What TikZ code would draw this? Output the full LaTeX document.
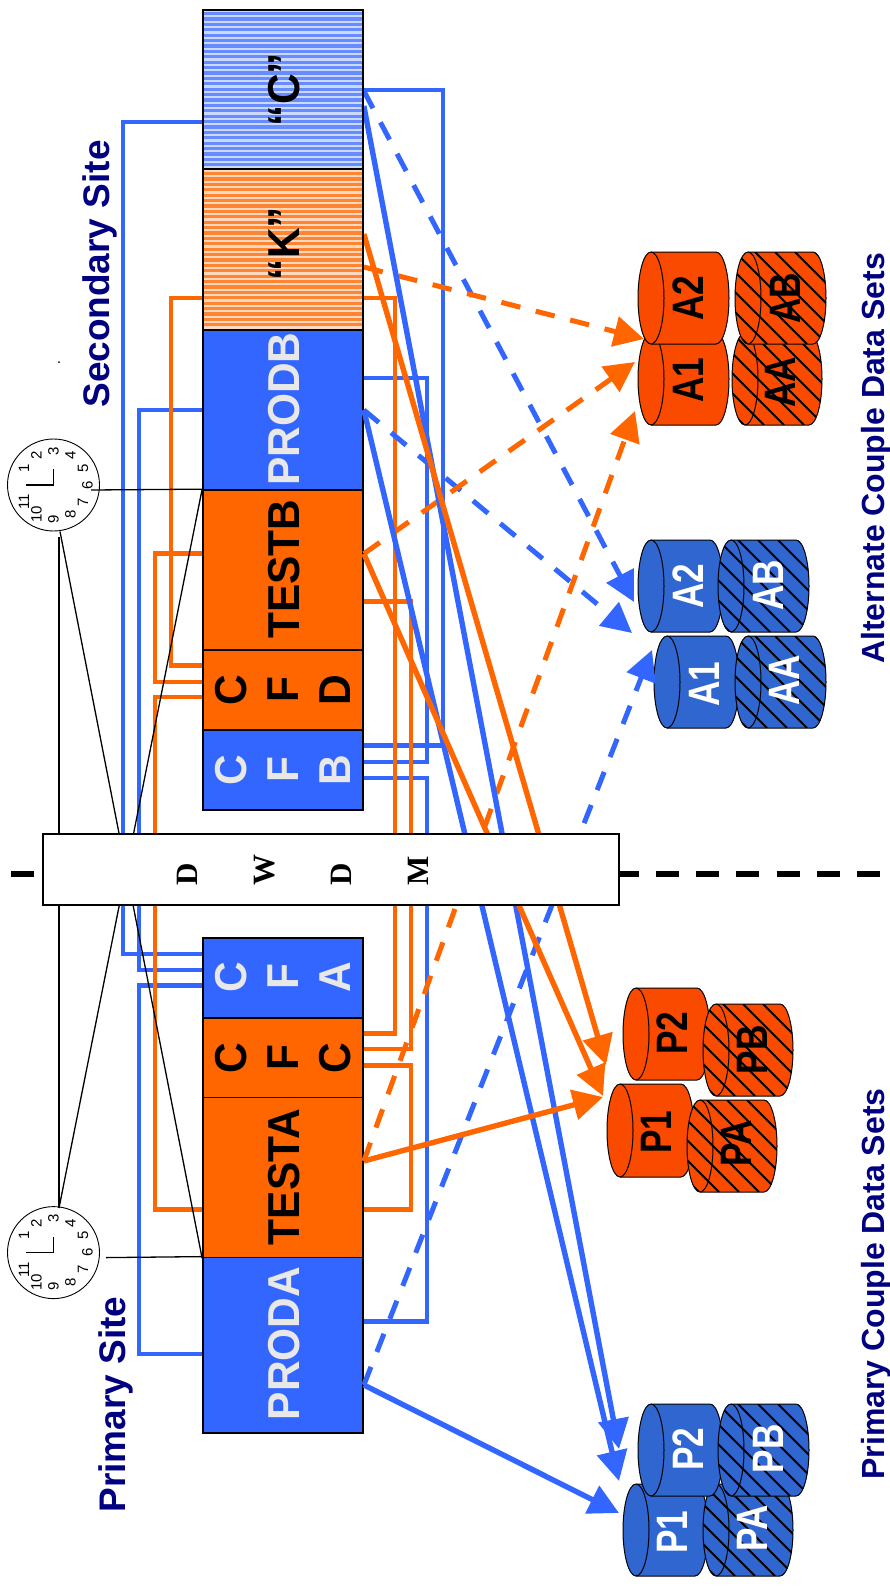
\documentclass[tikz,border=0pt]{standalone}
\usepackage{fontspec}
\setmainfont{Liberation Sans}
\newfontfamily\tmsfont{Liberation Serif}
\usetikzlibrary{arrows.meta}
\definecolor{bxb}{HTML}{3366FF}
\definecolor{bxo}{HTML}{FF6600}
\definecolor{cyb}{HTML}{2F66D0}
\definecolor{cyo}{HTML}{F94A00}
\definecolor{navyt}{HTML}{000080}
\definecolor{lgt}{HTML}{E8E8E8}
\tikzset{
  bwire/.style={draw=bxb,line width=4.6pt},
  owire/.style={draw=bxo,line width=4.6pt},
  headS/.style={-{Triangle[length=30pt,width=30pt]}},
  bdiag/.style={draw=bxb,line width=5.4pt,headS},
  odiag/.style={draw=bxo,line width=5.4pt,headS},
  bdsh/.style={draw=bxb,line width=5pt,dash pattern=on 19.5pt off 16pt,headS},
  odsh/.style={draw=bxo,line width=5pt,dash pattern=on 19.5pt off 16pt,headS},
  panel/.style={draw=black,line width=1.7pt,minimum width=160pt,inner sep=0pt},
  boxlab/.style={rotate=90,xscale=.95,anchor=base,font=\fontsize{44.7}{52}\selectfont\bfseries},
  tri/.style={rotate=90,xscale=.95,align=center,font=\fontsize{44.7}{52}\selectfont\bfseries},
  sitelab/.style={rotate=90,anchor=base,text=navyt,font=\fontsize{37}{40}\selectfont\bfseries},
  setlab/.style={rotate=90,anchor=base,text=navyt,font=\fontsize{32}{36}\selectfont\bfseries},
  cyllab/.style={rotate=90,xscale=.8,anchor=base,font=\fontsize{44}{46}\selectfont\bfseries},
  thinl/.style={draw=black,line width=1.3pt},
  digit/.style={rotate=90,inner sep=0pt,font=\fontsize{15}{15}\selectfont}
}
\newcommand{\cylpath}{(\xl,\yt) -- (\xr,\yt) .. controls (\xr+7.18,\yt) and (\xe,\ym-\kq) .. (\xe,\ym) .. controls (\xe,\ym+\kq) and (\xr+7.18,\yb) .. (\xr,\yb) -- (\xl,\yb) .. controls (\xl-7.18,\yb) and (\xs,\ym+\kq) .. (\xs,\ym) .. controls (\xs,\ym-\kq) and (\xl-7.18,\yt) .. cycle}
\newcommand{\cyl}[6]{%
  \pgfmathsetmacro\xs{#1}\pgfmathsetmacro\xe{#2}%
  \pgfmathsetmacro\yt{#3}\pgfmathsetmacro\yb{#4}%
  \pgfmathsetmacro\xl{#1+13}\pgfmathsetmacro\xr{#2-13}%
  \pgfmathsetmacro\ym{(#3+#4)/2}\pgfmathsetmacro\kq{0.5523*(#4-#3)/2}%
  \pgfmathsetmacro\hh{#4-#3}%
  \fill[#5] \cylpath;
  \ifnum#6=1
    \begin{scope}
      \clip \cylpath;
      \foreach \d in {-100,-80,...,100}
        \draw[black,line width=2pt] (#1+\d,#3) -- (#1+\d+\hh,#4);
    \end{scope}
  \fi
  \draw[black,line width=1pt] \cylpath;
  \draw[black,line width=1pt] (\xl,\yt) .. controls (\xl+7.18,\yt) and (\xl+13,\ym-\kq) .. (\xl+13,\ym) .. controls (\xl+13,\ym+\kq) and (\xl+7.18,\yb) .. (\xl,\yb);
}
\newcommand{\clockface}[3]{%
  \node[circle,draw=black,line width=.9pt,minimum size=92pt,inner sep=0pt] (#1) at (#2,#3) {};
  \foreach \h in {1,...,11}{%
    \pgfmathsetmacro\ang{90+(3-\h)*30}%
    \pgfmathsetmacro\dx{#2+34*cos(\ang)}%
    \pgfmathsetmacro\dy{#3-34*sin(\ang)}%
    \node[digit] (#1d\h) at (\dx,\dy) {\h};
  }
  \coordinate (#1hand) at (#2,#3);
  \draw[thinl] (#1hand) -- (#2,#3-16);
  \draw[thinl] (#1hand) -- (26,#3);
}
\begin{document}
\begin{tikzpicture}[x=1pt,y=-1pt]
\useasboundingbox (0,0) rectangle (890,1587);
% thick dashed divider
\coordinate (divL) at (11,874);
\coordinate (divR) at (880,874);
\draw[black,line width=6pt,dash pattern=on 23pt off 17.3pt] (divL) -- (divR);
% clocks
\clockface{clkS}{53.5}{485}
\clockface{clkP}{53.5}{1252.6}
\fill (59,362) circle[radius=1pt];
% cylinders
\cyl{732}{822}{333}{425}{cyo}{1}
\cyl{735}{826}{252}{344}{cyo}{1}
\cyl{638}{729}{333}{425}{cyo}{0}
\cyl{638}{729}{252}{344}{cyo}{0}
\cyl{638}{723}{540}{632}{cyb}{0}
\cyl{718}{809}{540}{632}{cyb}{1}
\cyl{654}{739}{636}{728}{cyb}{0}
\cyl{735}{826}{636}{728}{cyb}{1}
\cyl{623}{710}{988}{1080}{cyo}{0}
\cyl{703}{793}{1004}{1096}{cyo}{1}
\cyl{607}{694}{1084}{1177}{cyo}{0}
\cyl{687}{777}{1100}{1192}{cyo}{1}
\cyl{623}{708}{1484}{1576}{cyb}{0}
\cyl{703}{793}{1484}{1576}{cyb}{1}
\cyl{638}{723}{1404}{1496}{cyb}{0}
\cyl{718}{809}{1404}{1496}{cyb}{1}
\node[cyllab,text=black] (lA2o) at (703,298) {A2};
\node[cyllab,text=black] (lA1o) at (703,380) {A1};
\node[cyllab,text=black] (lABo) at (800,298) {AB};
\node[cyllab,text=black] (lAAo) at (795,382) {AA};
\node[cyllab,text=white] (lA2b) at (703,586) {A2};
\node[cyllab,text=white] (lABb) at (783,585) {AB};
\node[cyllab,text=white] (lA1b) at (719,684) {A1};
\node[cyllab,text=white] (lAAb) at (799,680) {AA};
\node[cyllab,text=black] (lP2o) at (687,1033) {P2};
\node[cyllab,text=black] (lPBo) at (767,1050) {PB};
\node[cyllab,text=black] (lP1o) at (671,1132) {P1};
\node[cyllab,text=black] (lPAo) at (751,1143) {PA};
\node[cyllab,text=white] (lP2b) at (703,1449) {P2};
\node[cyllab,text=white] (lPBb) at (783,1449) {PB};
\node[cyllab,text=white] (lP1b) at (687,1532) {P1};
\node[cyllab,text=white] (lPAb) at (767,1528) {PA};
% panels
\fill[bxb!25] (203,10) rectangle (363,169);
\fill[bxo!25] (203,169) rectangle (363,330);
\foreach \yy in {12,17.4,...,167} \fill[bxb!75] (203,\yy) rectangle (363,\yy+3.2);
\foreach \yy in {172,177.4,...,328} \fill[bxo!80] (203,\yy) rectangle (363,\yy+3.2);
\node[panel,minimum height=159pt] (pC) at (283,89.5) {};
\node[panel,minimum height=161pt] (pK) at (283,249.5) {};
\node[panel,minimum height=160pt,fill=bxb] (pPB) at (283,410) {};
\node[panel,minimum height=160pt,fill=bxo] (pTB) at (283,570) {};
\node[panel,minimum height=80pt,fill=bxo] (pCD) at (283,690) {};
\node[panel,minimum height=80pt,fill=bxb] (pCB) at (283,770) {};
\node[panel,minimum height=80pt,fill=bxb] (pCA) at (283,978) {};
\node[panel,minimum height=80pt,fill=bxo] (pCC) at (283,1058) {};
\node[panel,minimum height=160pt,fill=bxo] (pTA) at (283,1177.5) {};
\node[panel,minimum height=175.5pt,fill=bxb] (pPA) at (283,1345.2) {};
% left wires
\draw[bwire] (pC.west|-0,122) -| (123,954) -- (pCA.west|-0,954);
\draw[bwire] (pPB.west|-0,410) -| (139,970) -- (pCA.west|-0,970);
\draw[bwire] (pCA.west|-0,985.7) -| (139,1354) -- (pPA.west|-0,1354);
\draw[owire] (pK.west|-0,298) -| (171,665.6) -- (pCD.west|-0,665.6);
\draw[owire] (pTB.west|-0,553.7) -| (155,681.8) -- (pCD.west|-0,681.8);
\draw[owire] (pCD.west|-0,697) -| (155,1209.6) -- (pTA.west|-0,1209.6);
% right wires
\draw[bwire] (pC.east|-0,90) -| (443,745.7) -- (pCB.east|-0,745.7);
\draw[bwire] (pPB.east|-0,378) -| (427,762) -- (pCB.east|-0,762);
\draw[bwire] (pCB.east|-0,778) -| (427,1321.5) -- (pPA.east|-0,1321.5);
\draw[owire] (pK.east|-0,298) -| (395,1033.7) -- (pCC.east|-0,1033.7);
\draw[owire] (pTB.east|-0,601.7) -| (411,1049) -- (pCC.east|-0,1049);
\draw[owire] (pCC.east|-0,1065.7) -| (411,1209.6) -- (pTA.east|-0,1209.6);
% clock synchronisation lines
\draw[thinl] (91,490) -- (pTB.north west);
\draw[thinl] (106,1257.6) -- (pPA.north west);
\coordinate (sB) at (59,537);
\coordinate (sD) at (60,531.5);
\coordinate (pTop) at (59,1208);
\draw[thinl] (sB) -- (pTop);
\draw[thinl] (sD) -- (pTA.south west);
\draw[thinl] (pTop) -- (pTB.north west);
% arrow targets
\coordinate (tP2b) at (619,1449);
\coordinate (tP2c) at (619,1481);
\coordinate (tP1b) at (619,1513);
\coordinate (tP2o) at (606,1065);
\coordinate (tP1a) at (603,1096);
\coordinate (tP1o) at (603,1097);
\coordinate (tA2b) at (634,602);
\coordinate (tA2c) at (632,633);
\coordinate (tA1b) at (652,650);
\coordinate (tA2o) at (644,339);
\coordinate (tA1a) at (635,362);
\coordinate (tA1o) at (635,411);
% dashed arrows
\draw[bdsh] (pC.east|-0,91) -- (tA2b);
\draw[bdsh] (pPB.east|-0,410) -- (tA2c);
\draw[bdsh] (pPA.east|-0,1385) -- (tA1b);
\draw[odsh] (pK.east|-0,267) -- (tA2o);
\draw[odsh] (pTB.east|-0,553.7) -- (tA1a);
\draw[odsh] (pTA.east|-0,1161) -- (tA1o);
% solid arrows
\draw[bdiag] (pC.east|-0,106) -- (tP2b);
\draw[bdiag] (pPB.east|-0,410) -- (tP2c);
\draw[bdiag] (pPA.east|-0,1385) -- (tP1b);
\draw[odiag] (pK.east|-0,234) -- (tP2o);
\draw[odiag] (pTB.east|-0,553.7) -- (tP1a);
\draw[odiag] (pTA.east|-0,1161) -- (tP1o);
% panel outlines & labels on top
\node[panel,minimum height=159pt] (pC2) at (283,89.5) {};
\node[panel,minimum height=161pt] (pK2) at (283,249.5) {};
\node[boxlab] (tC) at (299,89.6) {“C”};
\node[boxlab] (tK) at (299,243.5) {“K”};
\node[boxlab,text=lgt] (tPB) at (299,409) {PRODB};
\node[boxlab] (tTB) at (299,569) {TESTB};
\node[boxlab] (tTA) at (299,1177) {TESTA};
\node[boxlab,text=lgt] (tPA) at (299,1343.5) {PRODA};
\node[tri] (tCD) at (283,690) {C\\F\\D};
\node[tri,text=lgt] (tCB) at (283,770) {C\\F\\B};
\node[tri,text=lgt] (tCA) at (283,977) {C\\F\\A};
\node[tri] (tCC) at (283,1058) {C\\F\\C};
% DWDM
\node[draw=black,fill=white,line width=1.7pt,minimum width=576pt,minimum height=71.5pt,inner sep=0pt] (dwdm) at (331,869.5) {};
\node[rotate=90,align=left,font=\fontsize{31}{77}\selectfont\tmsfont\bfseries] (dwdmt) at (302.5,870) {D\\W\\D\\M};
% site labels
\node[sitelab] (sS) at (109.5,274) {Secondary Site};
\node[sitelab] (sP) at (125,1404.6) {Primary Site};
\node[setlab] (sA) at (884,458.5) {Alternate Couple Data Sets};
\node[setlab] (sPC) at (884,1284) {Primary Couple Data Sets};
\end{tikzpicture}
\end{document}
